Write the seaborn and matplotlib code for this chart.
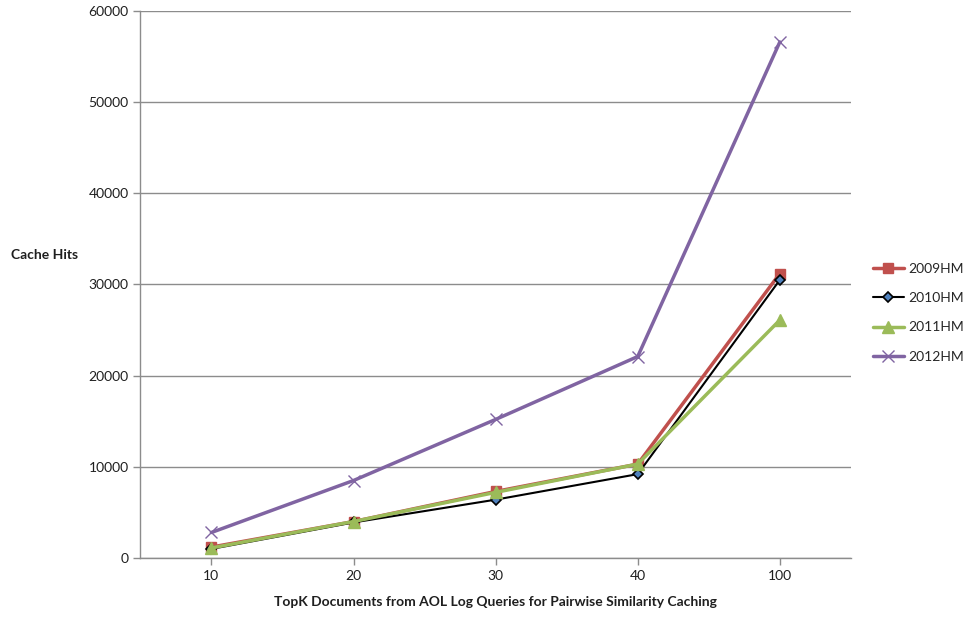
import numpy as np
import pandas as pd
import matplotlib
matplotlib.use('Agg')
import matplotlib.pyplot as plt
import seaborn as sns

# data
categories = ['10', '20', '30', '40', '100']
hm2009 = [1200, 4000, 7300, 10300, 31200]
hm2010 = [1000, 3900, 6400, 9200, 30500]
hm2011 = [1100, 4000, 7200, 10300, 26100]
hm2012 = [2800, 8500, 15200, 22100, 56600]
series_names = ['2009HM', '2010HM', '2011HM', '2012HM']

sns.set_theme(style='white')
plt.rcParams['font.family'] = ['Lato', 'DejaVu Sans']

pos = np.arange(len(categories))
data = pd.DataFrame({
    'pos': np.tile(pos, 4),
    'hits': hm2009 + hm2010 + hm2011 + hm2012,
    'series': np.repeat(series_names, len(categories)),
})

styles = {
    '2009HM': dict(color='#C0504D', marker='s', lw=2.5, ms=7, mfc='#C0504D', mec='#C0504D', mew=1),
    '2010HM': dict(color='#000000', marker='D', lw=1.5, ms=5, mfc='#4F81BD', mec='#000000', mew=1.2),
    '2011HM': dict(color='#9BBB59', marker='^', lw=2.5, ms=8, mfc='#9BBB59', mec='#9BBB59', mew=1),
    '2012HM': dict(color='#8064A2', marker='x', lw=2.5, ms=8, mfc='#8064A2', mec='#8064A2', mew=1),
}

fig = plt.figure(figsize=(9.68, 6.17), dpi=100)
ax = fig.add_axes([0.145, 0.0956, 0.734, 0.8866])

for name in series_names:
    s = styles[name]
    sub = data[data['series'] == name]
    sns.lineplot(x='pos', y='hits', data=sub, ax=ax, label=name, color=s['color'],
                 linewidth=s['lw'], marker=s['marker'], markersize=s['ms'],
                 markerfacecolor=s['mfc'], markeredgecolor=s['mec'], markeredgewidth=s['mew'])

ax.set_xlim(-0.5, len(categories) - 0.5)
ax.set_ylim(0, 60000)
ax.set_yticks(np.arange(0, 60001, 10000))
ax.set_xticks(pos)
ax.set_xticklabels(categories)
ax.yaxis.grid(True, color='#8C8C8C', linewidth=1)
ax.set_axisbelow(True)
for sp in ['top', 'right']:
    ax.spines[sp].set_visible(False)
for sp in ['left', 'bottom']:
    ax.spines[sp].set_color('#8C8C8C')
    ax.spines[sp].set_linewidth(1)
ax.tick_params(axis='both', which='both', direction='out', length=5, width=1,
               color='#8C8C8C', labelsize=10, labelcolor='#1F1F1F', left=True, bottom=True)

ax.set_xlabel('TopK Documents from AOL Log Queries for Pairwise Similarity Caching',
              fontsize=10, fontweight='bold', color='#1F1F1F', labelpad=10)
ax.set_ylabel('')
fig.text(0.011, 0.587, 'Cache Hits', fontsize=10, fontweight='bold', color='#1F1F1F',
         ha='left', va='center')

ax.legend(loc='center left', bbox_to_anchor=(0.902, 0.493), bbox_transform=fig.transFigure,
          frameon=False, fontsize=10, handlelength=2.2, labelspacing=1.25, handletextpad=0.3,
          borderaxespad=0, borderpad=0)

plt.savefig('out.png', dpi=100)
